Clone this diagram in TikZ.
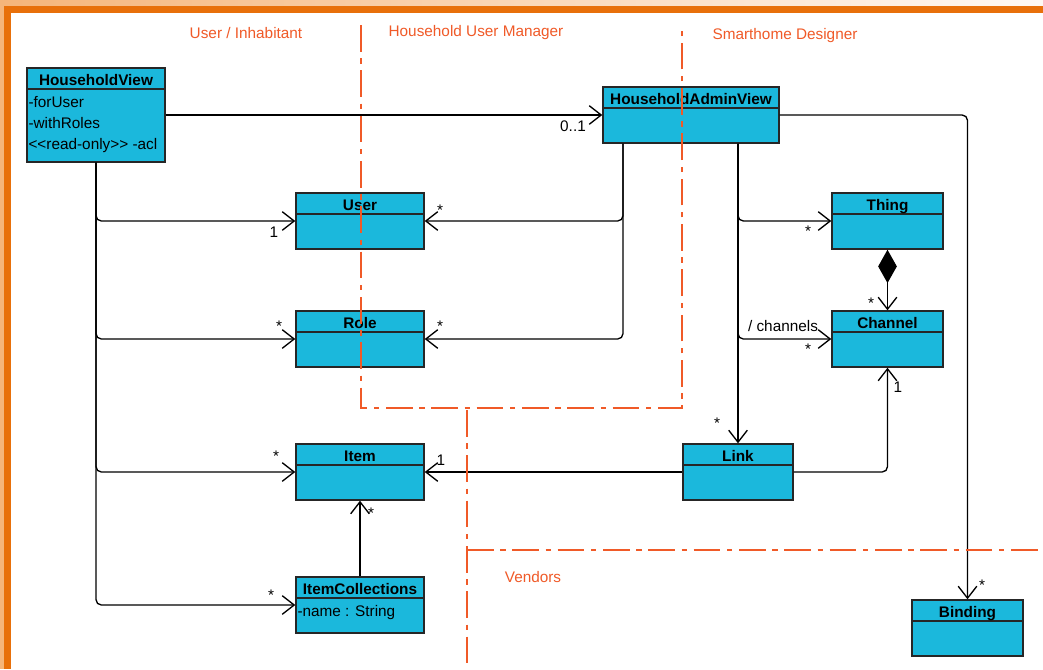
\documentclass[tikz,border=0pt]{standalone}
\usepackage{fontspec}
\setmainfont{Liberation Sans}[Ligatures=TeXOff]
\usetikzlibrary{arrows.meta,positioning}
\definecolor{cls-blue}{RGB}{27,184,220}
\definecolor{frame-orange}{RGB}{232,112,10}
\definecolor{frame-light}{RGB}{245,181,122}
\definecolor{zone-red}{RGB}{240,90,40}

\begin{document}
\begin{tikzpicture}[x=0.75pt, y=-0.75pt,
	cls/.style={draw=black!85, line width=1.1pt, fill=cls-blue, inner sep=0pt},
	hdr/.style={draw=black!85, line width=1.1pt, inner sep=0pt, minimum height=15.75pt, text height=10pt, text depth=0pt, anchor=north, font=\fontsize{11.5}{14}\selectfont\bfseries},
	attr/.style={inner sep=1.5pt, anchor=north west, align=left, font=\fontsize{11.5}{16}\selectfont},
	mult/.style={inner sep=0pt, font=\fontsize{11.5}{14}\selectfont},
	zone/.style={text=zone-red, font=\fontsize{11.5}{14}\selectfont},
	assoc/.style={-{Straight Barb[length=9pt,width=14pt]}, line width=1pt, rounded corners=4pt},
	sep/.style={draw=zone-red, line width=1.2pt, dash pattern=on 20pt off 5pt on 4pt off 5pt}]
	\useasboundingbox (0,0) rectangle (1043,669);
	\fill[white] (0,0) rectangle (1043,669);
	
	% frame
	\shade[left color=frame-light, right color=frame-light!8] (0,0) rectangle (1043,6);
	\fill[frame-light] (0,0) rectangle (4,669);
	\fill[frame-orange] (4,6) rectangle (1043,13);
	\fill[frame-orange] (4,6) rectangle (11,669);
	
	% classes
	\node (hv) at (96,115) [cls, minimum width=103.5pt, minimum height=70.5pt] {};
	\node (hvt) at (hv.north) [hdr, minimum width=103.5pt] {HouseholdView};
	\node (hvattr) at ([yshift=-20pt]hv.north west) [attr] {-forUser\\-withRoles\\<<read-only>> -acl};
	
	\node (hav) at (691,115) [cls, minimum width=132pt, minimum height=42pt] {};
	\node (havt) at (hav.north) [hdr, minimum width=132pt] {HouseholdAdminView};
	
	\node (user) at (360,221) [cls, minimum width=96pt, minimum height=42pt] {};
	\node (usert) at (user.north) [hdr, minimum width=96pt] {User};
	
	\node (role) at (360,339) [cls, minimum width=96pt, minimum height=42pt] {};
	\node (rolet) at (role.north) [hdr, minimum width=96pt] {Role};
	
	\node (item) at (360,472) [cls, minimum width=96pt, minimum height=42pt] {};
	\node (itemt) at (item.north) [hdr, minimum width=96pt] {Item};
	
	\node (itemcoll) at (360,605) [cls, minimum width=96pt, minimum height=42pt] {};
	\node (itemcollt) at (itemcoll.north) [hdr, minimum width=96pt] {ItemCollections};
	\node (icattr) at ([yshift=-20pt]itemcoll.north west) [attr] {-name : String};
	
	\node (thing) at (887.5,221) [cls, minimum width=83.25pt, minimum height=42pt] {};
	\node (thingt) at (thing.north) [hdr, minimum width=83.25pt] {Thing};
	
	\node (channel) at (887.5,339) [cls, minimum width=83.25pt, minimum height=42pt] {};
	\node (channelt) at (channel.north) [hdr, minimum width=83.25pt] {Channel};
	
	\node (link) at (738,472) [cls, minimum width=82.5pt, minimum height=42pt] {};
	\node (linkt) at (link.north) [hdr, minimum width=82.5pt] {Link};
	
	\node (binding) at (967.5,628) [cls, minimum width=83.25pt, minimum height=42pt] {};
	\node (bindingt) at (binding.north) [hdr, minimum width=83.25pt] {Binding};
	
	% associations
	\draw[assoc] (hv) -- (hav);
	\draw[assoc] (hv) |- (user);
	\draw[assoc] (hv) |- (role);
	\draw[assoc] (hv) |- (item);
	\draw[assoc] (hv) |- (itemcoll);
	\draw[assoc] ([xshift=-51pt]hav.south) |- (user);
	\draw[assoc] ([xshift=-51pt]hav.south) |- (role);
	\draw[assoc] (hav.south -| link.north) -- (link);
	\draw[assoc] (hav.south -| link.north) |- (thing);
	\draw[assoc] (hav.south -| link.north) |- (channel);
	\draw[{Diamond[length=25pt,width=14pt]}-{Straight Barb[length=9pt,width=14pt]}, line width=1pt] (thing) -- (channel);
	\draw[assoc] (link) -| (channel);
	\draw[assoc] (link) -- (item);
	\draw[assoc] (itemcoll) -- (item);
	\draw[assoc] (hav) -| (binding);
	
	% multiplicities
	\node (m-hav) [mult] at (573,126) {0..1};
	\node (m-user-l) [mult] at (274,232) {1};
	\node (m-user-r) [mult] at (440,210) {*};
	\node (m-role-l) [mult] at (279,326) {*};
	\node (m-role-r) [mult] at (440,326) {*};
	\node (m-item-l) [mult] at (276,456) {*};
	\node (m-item-r) [mult] at (441,460) {1};
	\node (m-item-b) [mult] at (371,513) {*};
	\node (m-ic) [mult] at (271,595) {*};
	\node (m-thing) [mult] at (808,231) {*};
	\node (m-chan-t) [mult] at (871,303) {*};
	\node (m-chan-l) [mult] at (808,349) {*};
	\node (m-chan-b) [mult] at (898,387) {1};
	\node (m-link) [mult] at (717,423) {*};
	\node (m-bind) [mult] at (982,585) {*};
	\node (r-chan) [mult] at (783,326) {/ channels};
	
	% zones
	\draw[sep] (361,25) -- (361,408) -- (682,408) -- (682,25);
	\draw[sep] (467,410) -- (467,669);
	\draw[sep] (467,550) -- (1043,550);
	\node (zuser) [zone] at (246,33) {User / Inhabitant};
	\node (zmgr) [zone] at (476,33) {Household User Manager};
	\node (zdes) [zone] at (785,36) {Smarthome Designer};
	\node (zvend) [zone] at (533,577) {Vendors};
	
\end{tikzpicture}
\end{document}
